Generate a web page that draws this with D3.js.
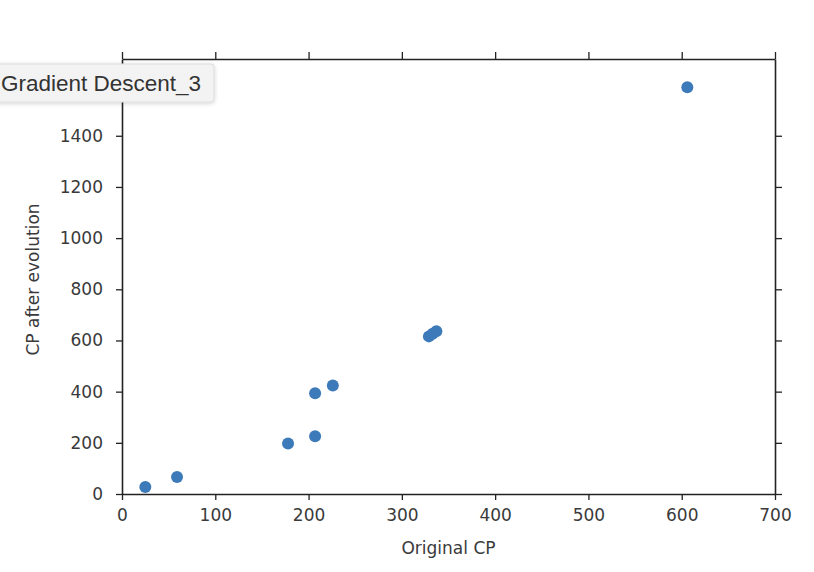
<!DOCTYPE html>
<html>
<head>
<meta charset="utf-8">
<script src="https://cdn.jsdelivr.net/npm/d3@7"></script>
<style>
  body { margin: 0; background: #fff; }
  svg { display: block; }
</style>
</head>
<body>
<script>
// Original CP vs CP after evolution
const originalCP = [25, 59, 178, 207, 207, 226, 329, 333, 337, 606];
const evolvedCP = [27, 66, 197, 226, 394, 424, 616, 626, 636, 1590];
const xTicks = [0, 100, 200, 300, 400, 500, 600, 700];
const yTicks = [0, 200, 400, 600, 800, 1000, 1200, 1400];

const width = 814;
const height = 572;
const margin = { top: 59, right: 39, bottom: 78, left: 122 };

const svg = d3.select("body")
  .append("svg")
  .attr("width", width)
  .attr("height", height)
  .style("font-family", "'DejaVu Sans', sans-serif");

const x = d3.scaleLinear()
  .domain([0, 700])
  .range([margin.left, width - margin.right]);

const y = d3.scaleLinear()
  .domain([0, 1700])
  .range([height - margin.bottom, margin.top]);

const tickColor = "#222";
const fmt = d3.format("d");

// Axes on all four sides, ticks outward
const bottomAxis = svg.append("g")
  .attr("transform", `translate(0,${y(0)})`)
  .call(d3.axisBottom(x).tickValues(xTicks).tickFormat(fmt).tickSize(6).tickPadding(9).tickSizeOuter(0));

const topAxis = svg.append("g")
  .attr("transform", `translate(0,${y(1700)})`)
  .call(d3.axisTop(x).tickValues(xTicks).tickSize(7).tickFormat("").tickSizeOuter(0));

const leftAxis = svg.append("g")
  .attr("transform", `translate(${x(0)},0)`)
  .call(d3.axisLeft(y).tickValues(yTicks).tickFormat(fmt).tickSize(6).tickPadding(13).tickSizeOuter(0));

const rightAxis = svg.append("g")
  .attr("transform", `translate(${x(700)},0)`)
  .call(d3.axisRight(y).tickValues(yTicks).tickSize(7).tickFormat("").tickSizeOuter(0));

[bottomAxis, topAxis, leftAxis, rightAxis].forEach((g) => {
  g.select(".domain").attr("stroke", tickColor).attr("stroke-width", 1.6);
  g.selectAll(".tick line").attr("stroke", tickColor).attr("stroke-width", 1.3);
  g.selectAll(".tick text")
    .attr("fill", "#3a3a3a")
    .style("font-size", "17px")
    .style("font-family", "'DejaVu Sans', sans-serif");
});

// Points
svg.append("g")
  .selectAll("circle")
  .data(originalCP.map((d, i) => [d, evolvedCP[i]]))
  .join("circle")
  .attr("cx", (d) => x(d[0]))
  .attr("cy", (d) => y(d[1]))
  .attr("r", 6)
  .attr("fill", "#3d7ab9");

// Axis titles
svg.append("text")
  .attr("x", (x(0) + x(700)) / 2)
  .attr("y", 554)
  .attr("text-anchor", "middle")
  .attr("fill", "#3a3a3a")
  .style("font-size", "17px")
  .text("Original CP");

svg.append("text")
  .attr("transform", `translate(39,${(y(0) + y(1700)) / 2 + 3}) rotate(-90)`)
  .attr("text-anchor", "middle")
  .attr("fill", "#3a3a3a")
  .style("font-size", "17px")
  .text("CP after evolution");

// Tooltip-like label box
const defs = svg.append("defs");
const shadow = defs.append("filter").attr("id", "shadow")
  .attr("x", "-20%").attr("y", "-40%").attr("width", "140%").attr("height", "180%");
shadow.append("feDropShadow")
  .attr("dx", 0).attr("dy", 1).attr("stdDeviation", 2)
  .attr("flood-color", "#000").attr("flood-opacity", 0.18);

const tip = svg.append("g");
tip.append("rect")
  .attr("x", -12)
  .attr("y", 64)
  .attr("width", 226)
  .attr("height", 38)
  .attr("rx", 3)
  .attr("fill", "#f3f3f3")
  .attr("stroke", "#dcdcdc")
  .attr("stroke-width", 1)
  .attr("filter", "url(#shadow)");
tip.append("text")
  .attr("x", 1)
  .attr("y", 91)
  .attr("fill", "#333")
  .style("font-family", "'Liberation Sans', Arial, sans-serif")
  .style("font-size", "22.5px")
  .text("Gradient Descent_3");
</script>
</body>
</html>
